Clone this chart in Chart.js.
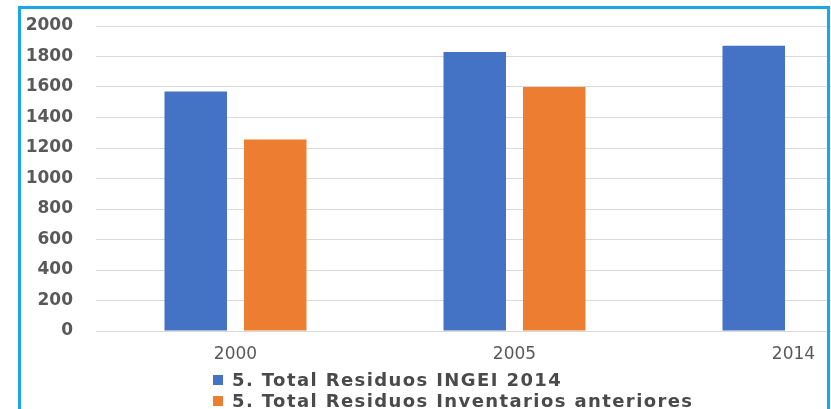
<!DOCTYPE html>
<html>
<head>
<meta charset="utf-8">
<script src="https://cdn.jsdelivr.net/npm/chart.js@4"></script>
<style>
  html, body { margin: 0; padding: 0; background: #fff; overflow: hidden; }
  #wrap { position: absolute; left: 0; top: 0; width: 940px; height: 409px; }
  #frame {
    position: absolute; left: 18px; top: 6px; width: 812px; height: 430px;
    box-sizing: border-box; border: 3px solid #1ba6e8; pointer-events: none;
  }
  #legend {
    position: absolute; left: 213px; top: 369px;
    font: bold 18px "DejaVu Sans", sans-serif; letter-spacing: 1.4px; color: #4a4a4a;
  }
  .item { display: flex; align-items: center; height: 21px; white-space: nowrap; }
  .box { width: 10px; height: 10px; margin-right: 9px; }
</style>
</head>
<body>
<div id="wrap"><canvas id="residuosChart"></canvas></div>
<div id="frame"></div>
<div id="legend"></div>
<script>
// values
const categories = ['2000', '2005', '2014']
const ingei2014 = [1570, 1830, 1870]
const inventariosAnteriores = [1255, 1600, null]
const seriesNames = ['5. Total Residuos INGEI 2014', '5. Total Residuos Inventarios anteriores']
const seriesColors = ['#4472c4', '#ed7d31']

function initResiduosChart() {
  const canvas = document.getElementById('residuosChart')
  if (!canvas) return

  const chartData = {
    labels: categories,
    datasets: [
      { label: seriesNames[0], data: ingei2014, backgroundColor: seriesColors[0] },
      { label: seriesNames[1], data: inventariosAnteriores, backgroundColor: seriesColors[1] },
    ],
  }

  const chartOptions = {
    animation: false,
    responsive: true,
    maintainAspectRatio: false,
    layout: { padding: { top: 26, right: 7, left: 0, bottom: 0 } },
    datasets: { bar: { categoryPercentage: 0.57, barPercentage: 0.786 } },
    scales: {
      x: {
        grid: { display: false, drawTicks: false },
        border: { display: false },
        ticks: {
          padding: 13,
          color: '#595959',
          font: { family: 'DejaVu Sans', size: 17 },
        },
        afterFit: (scale) => { scale.height = 78 },
      },
      y: {
        min: 0,
        max: 2000,
        grid: { color: '#d9d9d9', lineWidth: 1, drawTicks: false },
        border: { display: false },
        ticks: {
          stepSize: 200,
          padding: 23,
          color: '#595959',
          font: { family: 'DejaVu Sans', size: 17, weight: 'bold' },
          callback: (value) => String(value),
        },
        afterFit: (scale) => {
          scale.width = 96
          // tick padding would otherwise push the plot top down
          scale.paddingTop = 0
          scale.paddingBottom = 0
        },
      },
    },
    plugins: { legend: { display: false }, tooltip: { enabled: false } },
  }

  window.residuosChart = new Chart(canvas, { type: 'bar', data: chartData, options: chartOptions })

  // legend kept as html so both rows line up on the left like the original
  const legend = document.getElementById('legend')
  seriesNames.forEach((name, i) => {
    const row = document.createElement('div')
    row.className = 'item'
    const box = document.createElement('span')
    box.className = 'box'
    box.style.background = seriesColors[i]
    row.appendChild(box)
    row.appendChild(document.createTextNode(name))
    legend.appendChild(row)
  })
}

initResiduosChart()
</script>
</body>
</html>
